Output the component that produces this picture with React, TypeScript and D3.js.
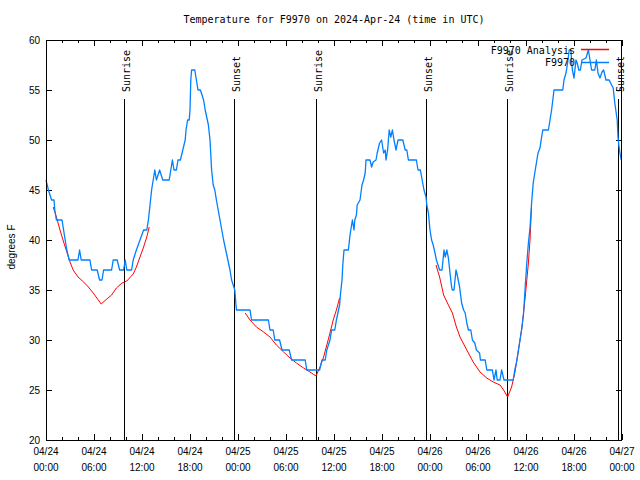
import React from 'react';
import { scaleUtc, scaleLinear, line, range, utcFormat } from 'd3';

// hours after 2024-04-24 00:00 UTC, temperature (F)
const observed: [number, number][] = [
    [0.0, 46], [0.3, 45], [0.7, 44], [1.0, 44], [1.1, 43], [1.3, 42], [2.0, 42], [2.4, 40], [2.6, 39], [2.9, 38],
    [4.0, 38], [4.2, 39], [4.4, 38], [5.5, 38], [5.7, 37], [6.4, 37], [6.7, 36], [7.0, 36], [7.2, 37], [8.2, 37],
    [8.4, 38], [8.9, 38], [9.2, 37], [9.7, 37], [9.9, 38], [10.1, 37], [10.7, 37], [10.9, 38], [11.3, 39], [11.75, 40],
    [12.2, 41], [12.6, 41], [12.8, 42], [13.2, 45], [13.6, 47], [13.8, 46], [14.2, 47], [14.6, 46], [15.4, 46], [15.6, 47],
    [15.8, 48], [16.0, 47], [16.3, 47], [16.5, 48], [16.8, 48], [17.1, 49], [17.4, 50], [17.5, 51], [17.7, 52], [17.9, 52],
    [18.0, 53], [18.1, 56], [18.2, 57], [18.6, 57], [18.8, 56], [19.0, 55], [19.3, 55], [19.7, 54], [19.9, 53], [20.3, 51.5],
    [20.5, 50], [20.7, 47], [20.9, 45.5], [21.1, 45], [21.3, 44], [21.75, 42], [22.2, 40], [22.6, 38.5], [23.0, 37], [23.2, 36],
    [23.4, 35.5], [23.6, 35], [23.75, 33.5], [23.8, 33], [25.5, 33], [25.7, 32], [27.8, 32], [28.0, 31], [28.4, 31], [28.6, 30],
    [29.2, 30], [29.5, 29], [30.4, 29], [30.7, 28], [32.4, 28], [32.6, 27], [34.2, 27], [34.5, 28], [34.9, 28], [35.1, 29],
    [35.5, 30], [35.7, 31], [36.1, 31], [36.3, 32], [36.7, 33.5], [36.8, 34.5], [37.0, 36], [37.1, 37.5], [37.25, 39], [37.8, 39],
    [38.0, 40.5], [38.2, 41.5], [38.3, 42], [38.5, 41], [38.6, 42], [38.8, 42.5], [38.9, 43.5], [39.25, 44], [39.5, 45.5], [39.7, 46],
    [39.9, 46.7], [40.0, 48], [40.5, 48], [40.7, 47.3], [40.9, 47.8], [41.25, 48], [41.4, 48.7], [41.7, 49.7], [41.95, 50], [42.2, 48.7],
    [42.4, 49], [42.5, 48], [42.7, 49], [42.9, 51], [43.1, 50.3], [43.3, 51], [43.5, 50], [43.75, 49], [44.0, 50], [44.6, 50],
    [44.9, 49], [45.1, 49], [45.3, 48], [46.3, 48], [46.5, 47], [46.8, 47], [46.95, 46.3], [47.25, 45], [47.5, 44.3], [47.6, 43.5],
    [47.8, 42.7], [48.0, 41], [48.2, 40], [48.4, 39.5], [48.6, 38.8], [48.8, 38], [49.2, 37], [49.5, 37], [49.75, 39], [49.9, 38.3],
    [50.1, 39], [50.3, 38.2], [50.5, 36.7], [50.7, 35.3], [50.8, 35], [51.0, 35], [51.25, 37], [51.4, 36.5], [51.7, 35.3], [51.95, 33.7],
    [52.2, 33], [52.4, 32.7], [52.6, 31.7], [52.8, 31], [53.1, 31], [53.3, 30], [53.6, 29.7], [53.8, 29], [54.2, 28.7], [54.3, 28],
    [54.9, 28], [55.1, 27], [55.8, 27], [56.0, 26], [56.25, 27], [56.4, 26], [56.75, 26], [56.95, 27], [57.25, 26], [58.4, 26],
    [58.6, 27], [58.8, 27.7], [59.0, 28.7], [59.25, 30], [59.5, 31.3], [59.7, 32.7], [59.9, 35.3], [60.1, 37.7], [60.3, 39.7], [60.5, 41.2],
    [60.7, 43.7], [60.9, 45.7], [61.1, 46.7], [61.3, 47.7], [61.5, 48.7], [61.75, 49.2], [61.95, 50.3], [62.1, 51], [62.8, 51], [63.0, 52],
    [63.2, 53], [63.5, 55], [64.6, 55], [64.75, 56], [65.0, 56.7], [65.2, 57.7], [65.4, 59], [65.6, 59], [65.8, 57], [66.0, 56.2],
    [66.25, 58], [66.4, 57.7], [66.6, 57], [66.8, 57], [67.0, 58], [67.5, 58.2], [67.8, 59], [68.0, 58], [68.2, 57], [68.6, 57],
    [68.8, 58], [69.0, 56.7], [69.25, 56.2], [69.5, 56.8], [69.7, 57], [70.0, 56], [70.4, 56], [70.7, 55.5], [70.9, 55.2], [71.1, 53.7],
    [71.4, 52], [71.5, 50.3], [71.6, 49.5], [71.75, 48.7], [71.9, 48]
];

const analysisDay1: [number, number][] = [
    [0.9, 43.3], [1.3, 42.3], [1.75, 41], [2.2, 39.8], [2.6, 38.8], [3.0, 37.8], [3.4, 37], [4.0, 36.3], [4.7, 35.8], [5.3, 35.3],
    [5.9, 34.7], [6.9, 33.6], [7.6, 34.1], [8.2, 34.5], [8.8, 35.2], [9.5, 35.7], [10.1, 35.9], [10.9, 36.6], [11.3, 37.3], [11.75, 38.3],
    [12.2, 39.3], [12.6, 40.3], [12.9, 41.3]
];
const analysisDay2: [number, number][] = [
    [24.9, 32.7], [25.5, 32], [26.3, 31.3], [27.2, 30.8], [28.0, 30.3], [28.8, 29.5], [29.7, 28.8], [30.5, 28.2], [31.3, 27.7], [32.2, 27.2],
    [33.0, 26.8], [33.75, 26.4], [34.25, 27.3], [34.7, 28.3], [35.1, 29.5], [35.5, 30.7], [35.9, 32], [36.3, 33], [36.7, 34.2]
];
const analysisDay3: [number, number][] = [
    [48.75, 37.5], [49.2, 36.3], [49.7, 34.5], [50.3, 33.5], [50.8, 32.7], [51.3, 31.3], [51.75, 30.3], [52.6, 29], [53.4, 27.8], [54.25, 26.8],
    [55.1, 26.2], [55.9, 25.8], [56.75, 25.5], [57.2, 25], [57.7, 24.3], [58.2, 25.3], [58.6, 26.7], [59.0, 28.7], [59.5, 31.3], [59.9, 34.3],
    [60.3, 37.7], [60.5, 40], [60.7, 43.5]
];

const sunEvents: { label: string, hour: number }[] = [
    { label: 'Sunrise', hour: 9.75 }, { label: 'Sunset', hour: 23.5 },
    { label: 'Sunrise', hour: 33.75 }, { label: 'Sunset', hour: 47.5 },
    { label: 'Sunrise', hour: 57.6 }, { label: 'Sunset', hour: 71.5 }
];

const yTicks = [20, 25, 30, 35, 40, 45, 50, 55, 60];
const xTickHours = range(0, 73, 6);
const xMinorHours = range(0, 73, 2);

const start = Date.UTC(2024, 3, 24);
const toDate = (h: number) => new Date(start + h * 3600000);

const App = () => {
    const margin = { top: 40, right: 18, bottom: 40, left: 46 };
    const svgWidth = 640, svgHeight = 480;
    const width = svgWidth - margin.left - margin.right;
    const height = svgHeight - margin.top - margin.bottom;

    const x = scaleUtc().domain([toDate(0), toDate(72)]).range([margin.left, margin.left + width]);
    const y = scaleLinear().domain([20, 60]).range([margin.top + height, margin.top]);

    const linefunc = line<[number, number]>().x(d => x(toDate(d[0]))).y(d => y(d[1]));
    const fmtDay = utcFormat('%m/%d');
    const fmtTime = utcFormat('%H:%M');

    const mono = "'DejaVu Sans Mono', 'Liberation Mono', monospace";
    const sans = "'Liberation Sans', Arial, sans-serif";
    const left = margin.left, right = margin.left + width, top = margin.top, bottom = margin.top + height;

    return (
        <svg width={svgWidth} height={svgHeight} style={{ position: 'absolute', left: 0, top: 0, background: '#fff' }}>
            <text x={(left + right) / 2} y={23} textAnchor='middle' fontFamily={mono} fontSize={10}>
                Temperature for F9970 on 2024-Apr-24 (time in UTC)
            </text>

            {/* ticks */}
            <g stroke='#000' strokeWidth={1} shapeRendering='crispEdges'>
                {yTicks.map(t => (
                    <g key={'y' + t}>
                        <line x1={left} x2={left + 6} y1={y(t)} y2={y(t)} />
                        <line x1={right} x2={right - 6} y1={y(t)} y2={y(t)} />
                    </g>
                ))}
                {xMinorHours.map(h => {
                    const len = h % 6 == 0 ? 6 : 3;
                    const xx = Math.round(x(toDate(h))) + 0.5;
                    return (
                        <g key={'x' + h}>
                            <line x1={xx} x2={xx} y1={bottom} y2={bottom - len} />
                            <line x1={xx} x2={xx} y1={top} y2={top + len} />
                        </g>
                    );
                })}
            </g>

            {yTicks.map(t => (
                <text key={'yl' + t} x={40} y={y(t) + 3.5} textAnchor='end' fontFamily={sans} fontSize={10}>{t}</text>
            ))}
            {xTickHours.map(h => (
                <text key={'xl' + h} x={x(toDate(h))} y={455} textAnchor='middle' fontFamily={sans} fontSize={10}>
                    <tspan x={x(toDate(h))}>{fmtDay(toDate(h))}</tspan>
                    <tspan x={x(toDate(h))} dy={16}>{fmtTime(toDate(h))}</tspan>
                </text>
            ))}
            <text transform={`translate(15,247) rotate(-90)`} textAnchor='middle' fontFamily={sans} fontSize={10}>degrees F</text>

            {/* sunrise / sunset markers */}
            {sunEvents.map((e, i) => {
                const xx = Math.round(x(toDate(e.hour))) + 0.5;
                return (
                    <g key={'s' + i}>
                        <line x1={xx} x2={xx} y1={99} y2={bottom} stroke='#000' strokeWidth={1} />
                        <text transform={`translate(${xx + 5},92) rotate(-90)`} textAnchor='start' fontFamily={mono} fontSize={10}>{e.label}</text>
                    </g>
                );
            })}

            {/* series */}
            <g fill='none' strokeLinejoin='round'>
                {[analysisDay1, analysisDay2, analysisDay3].map((seg, i) => (
                    <path key={'a' + i} d={linefunc(seg)} stroke='#ff0000' strokeWidth={1} />
                ))}
                <path d={linefunc(observed)} stroke='#0080ff' strokeWidth={1.3} />
            </g>

            {/* legend */}
            <text x={575} y={54} textAnchor='end' fontFamily={mono} fontSize={10}>F9970 Analysis</text>
            <line x1={581} x2={609} y1={49.5} y2={49.5} stroke='#ff0000' strokeWidth={1.5} />
            <text x={575} y={66} textAnchor='end' fontFamily={mono} fontSize={10}>F9970</text>
            <line x1={581} x2={609} y1={62.5} y2={62.5} stroke='#0080ff' strokeWidth={1.5} />

            <rect x={left + 0.5} y={top + 0.5} width={width - 1} height={height} fill='none' stroke='#000' strokeWidth={1} shapeRendering='crispEdges' />
        </svg>
    );
}

export default App;
